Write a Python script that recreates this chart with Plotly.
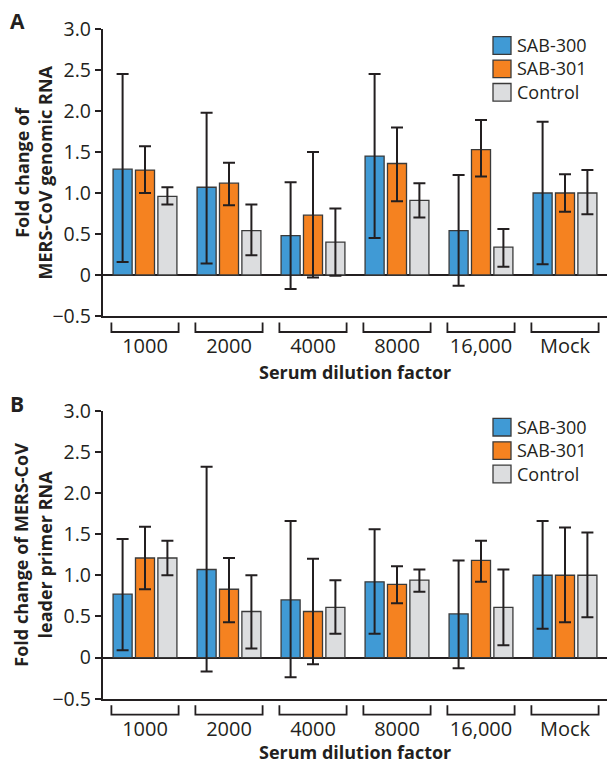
import plotly.graph_objects as go

# ---------------- data ----------------
categories = ["1000", "2000", "4000", "8000", "16,000", "Mock"]
series_names = ["SAB-300", "SAB-301", "Control"]

# Panel A: fold change of MERS-CoV genomic RNA
a_sab300 = [1.29, 1.07, 0.48, 1.45, 0.54, 1.00]
a_sab300_hi = [2.45, 1.98, 1.13, 2.45, 1.22, 1.87]
a_sab300_lo = [0.16, 0.14, -0.17, 0.45, -0.13, 0.13]
a_sab301 = [1.28, 1.12, 0.73, 1.36, 1.53, 1.00]
a_sab301_hi = [1.57, 1.37, 1.50, 1.80, 1.89, 1.23]
a_sab301_lo = [1.00, 0.85, -0.03, 0.90, 1.20, 0.77]
a_ctrl = [0.96, 0.54, 0.40, 0.91, 0.34, 1.00]
a_ctrl_hi = [1.07, 0.86, 0.81, 1.12, 0.56, 1.28]
a_ctrl_lo = [0.86, 0.24, -0.01, 0.70, 0.10, 0.74]

# Panel B: fold change of MERS-CoV leader primer RNA
b_sab300 = [0.77, 1.07, 0.70, 0.92, 0.53, 1.00]
b_sab300_hi = [1.44, 2.32, 1.66, 1.56, 1.18, 1.66]
b_sab300_lo = [0.09, -0.17, -0.24, 0.29, -0.13, 0.35]
b_sab301 = [1.21, 0.83, 0.56, 0.89, 1.18, 1.00]
b_sab301_hi = [1.59, 1.21, 1.20, 1.11, 1.42, 1.58]
b_sab301_lo = [0.83, 0.43, -0.08, 0.66, 0.92, 0.43]
b_ctrl = [1.21, 0.56, 0.61, 0.94, 0.61, 1.00]
b_ctrl_hi = [1.42, 1.00, 0.94, 1.07, 1.07, 1.52]
b_ctrl_lo = [1.00, 0.11, 0.29, 0.80, 0.15, 0.49]

y_tickvals = [-0.5, 0, 0.5, 1.0, 1.5, 2.0, 2.5, 3.0]
y_ticktext = ["\u22120.5", "0", "0.5", "1.0", "1.5", "2.0", "2.5", "3.0"]

# ---------------- styling ----------------
colors = ["#409ad5", "#f58220", "#dcdddf"]
dark = "#231f20"
FONT = "Open Sans"
W, H = 607, 764
ML = 103
LEG_FS = 18
LEG_PITCH = LEG_FS * 1.3

fig = go.Figure()

panels = [
    dict(vals=[(a_sab300, a_sab300_hi, a_sab300_lo),
               (a_sab301, a_sab301_hi, a_sab301_lo),
               (a_ctrl, a_ctrl_hi, a_ctrl_lo)],
         xa="x", ya="y",
         ytitle="Fold change of<br>MERS-CoV genomic RNA", letter="A", letter_shift=8,
         xtitle_shift=-56),
    dict(vals=[(b_sab300, b_sab300_hi, b_sab300_lo),
               (b_sab301, b_sab301_hi, b_sab301_lo),
               (b_ctrl, b_ctrl_hi, b_ctrl_lo)],
         xa="x2", ya="y2",
         ytitle="Fold change of MERS-CoV<br>leader primer RNA", letter="B", letter_shift=7,
         xtitle_shift=-53),
]

xpos = list(range(len(categories)))

for pi, p in enumerate(panels):
    for k, (v, hi, lo) in enumerate(p["vals"]):
        fig.add_trace(go.Bar(
            x=xpos, y=v, name=series_names[k],
            marker=dict(color=colors[k], line=dict(color="#3a3a3a", width=1.3)),
            error_y=dict(type="data", symmetric=False,
                         array=[h - m for h, m in zip(hi, v)],
                         arrayminus=[m - l for m, l in zip(v, lo)],
                         color=dark, thickness=2, width=6),
            xaxis=p["xa"], yaxis=p["ya"],
            offsetgroup=str(k), showlegend=False, cliponaxis=False,
        ))

domA = [(H - 316) / H, (H - 29) / H]
domB = [(H - 698.7) / H, (H - 410.7) / H]

def xaxis_cfg(anchor):
    return dict(domain=[0, 1], anchor=anchor, range=[-0.5, len(categories) - 0.5],
                tickvals=xpos, ticktext=categories, ticks="outside", ticklen=11,
                tickcolor="rgba(0,0,0,0)", showline=True, linewidth=2.2, linecolor=dark,
                showgrid=False, zeroline=False, fixedrange=True,
                tickfont=dict(family=FONT, size=20, color=dark))

def yaxis_cfg(anchor, dom):
    return dict(domain=dom, anchor=anchor, range=[-0.5, 3.0],
                tickvals=y_tickvals, ticktext=y_ticktext, ticks="outside", ticklen=6,
                tickwidth=1.5, tickcolor=dark, showline=True, linewidth=2.2, linecolor=dark,
                showgrid=False, zeroline=True, zerolinecolor=dark, zerolinewidth=2,
                tickfont=dict(family=FONT, size=19.5, color=dark))

shapes = []
annotations = []
for p, dom in zip(panels, [domA, domB]):
    xa, ya = p["xa"], p["ya"]
    xd, yd = xa + " domain", ya + " domain"
    plot_h = (dom[1] - dom[0]) * H
    plot_w = W - ML
    y_top = -6.5 / plot_h
    y_bot = -16 / plot_h
    for i in xpos:
        shapes.append(dict(type="path", xref=xa, yref=yd,
                           path=f"M {i-0.4},{y_top} L {i-0.4},{y_bot} L {i+0.4},{y_bot} L {i+0.4},{y_top}",
                           line=dict(color=dark, width=1.8)))
    # legend (manual, large swatches as in the reference)
    first_center = 16.5
    for k, name in enumerate(series_names):
        c = first_center + LEG_PITCH * k
        shapes.append(dict(type="rect", xref=xd, yref=yd,
                           x0=(493 - ML) / plot_w, x1=(511 - ML) / plot_w,
                           y0=1 - (c - 8.8) / plot_h, y1=1 - (c + 8.8) / plot_h,
                           fillcolor=colors[k], line=dict(color="#3a3a3a", width=1.3)))
    annotations.append(dict(text="<br>".join(series_names), xref=xd, x=(516 - ML) / plot_w,
                            xanchor="left", align="left",
                            yref=yd, y=1 - (first_center + LEG_PITCH) / plot_h, yanchor="middle",
                            showarrow=False, borderpad=0,
                            font=dict(family=FONT, size=LEG_FS, color=dark)))
    # y title
    annotations.append(dict(text=p["ytitle"], textangle=-90, xref="paper", x=0, xanchor="center",
                            xshift=-70, yref=yd, y=0.5, yanchor="middle", showarrow=False,
                            font=dict(family=FONT, size=18, color=dark, weight="bold")))
    # x title
    annotations.append(dict(text="Serum dilution factor", xref=xd, x=0.5,
                            yref=yd, y=0, yshift=p["xtitle_shift"], yanchor="middle",
                            showarrow=False, borderpad=0,
                            font=dict(family=FONT, size=18, color=dark, weight="bold")))
    # panel letter
    annotations.append(dict(text=p["letter"], xref="paper", x=0, xanchor="left", xshift=-95,
                            yref=yd, y=1, yshift=p["letter_shift"], yanchor="middle", showarrow=False,
                            font=dict(family=FONT, size=21, color=dark, weight="bold")))

fig.update_layout(
    width=W, height=H,
    margin=dict(l=ML, r=0, t=0, b=0, autoexpand=False),
    paper_bgcolor="white", plot_bgcolor="white",
    barmode="group", bargap=0.2, bargroupgap=0.15,
    xaxis=xaxis_cfg("y"), yaxis=yaxis_cfg("x", domA),
    xaxis2=xaxis_cfg("y2"), yaxis2=yaxis_cfg("x2", domB),
    shapes=shapes, annotations=annotations,
    font=dict(family=FONT, color=dark),
    showlegend=False,
)

fig.write_html("out.html")
